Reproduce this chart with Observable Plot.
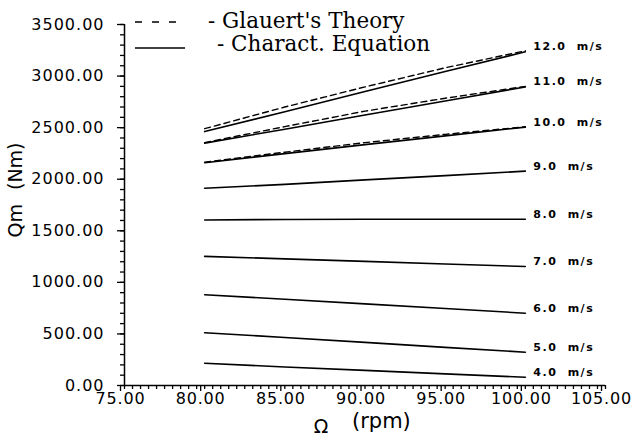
<!DOCTYPE html>
<html><head><meta charset="utf-8">
<script src="https://cdn.jsdelivr.net/npm/d3@7"></script>
<script src="https://cdn.jsdelivr.net/npm/@observablehq/plot@0.6"></script>
<style>
body{margin:0;background:#fff}
#chart{width:631px;height:442px;position:relative}
#chart svg g[aria-label="y-axis tick label"] text{letter-spacing:1px}
#chart svg g[aria-label="x-axis tick label"] text{letter-spacing:0.8px}
#chart svg g[aria-label="text"] text{letter-spacing:1.5px;word-spacing:5px}
</style>
</head><body><div id="chart"></div>
<script>
// Rotor speed (rpm) samples
const rpm = [80, 85, 90, 95, 100];
// Wind speed labels
const speedLabels = ["4.0 m/s","5.0 m/s","6.0 m/s","7.0 m/s","8.0 m/s","9.0 m/s","10.0 m/s","11.0 m/s","12.0 m/s"];
// Characteristic equation: Qm (Nm)
const charact4  = [215, 180, 147, 113, 80];
const charact5  = [512, 465, 418, 370, 323];
const charact6  = [880, 836, 791, 746, 701];
const charact7  = [1252, 1228, 1203, 1178, 1154];
const charact8  = [1605, 1610, 1612, 1612, 1612];
const charact9  = [1913, 1950, 1994, 2035, 2078];
const charact10 = [2160, 2248, 2335, 2420, 2505];
const charact11 = [2350, 2485, 2622, 2758, 2895];
const charact12 = [2462, 2655, 2850, 3045, 3235];
// Glauert's theory: Qm (Nm)
const glauert10 = [2165, 2262, 2355, 2435, 2508];
const glauert11 = [2355, 2510, 2660, 2785, 2900];
const glauert12 = [2490, 2700, 2895, 3080, 3245];
const glauertLabels = ["10.0 m/s","11.0 m/s","12.0 m/s"];

const charactSeries = [charact4, charact5, charact6, charact7, charact8, charact9, charact10, charact11, charact12];
const glauertSeries = [glauert10, glauert11, glauert12];

const charactRows = charactSeries.flatMap((vals, i) => vals.map((q, j) => ({rpm: rpm[j], q, speed: speedLabels[i]})));
const glauertRows = glauertSeries.flatMap((vals, i) => vals.map((q, j) => ({rpm: rpm[j], q, speed: glauertLabels[i]})));
const endRows = charactSeries.map((vals, i) => ({rpm: rpm[rpm.length - 1], q: vals[vals.length - 1], label: speedLabels[i]}));

const plot = Plot.plot({
  width: 631, height: 442,
  marginLeft: 124, marginRight: 26, marginTop: 24, marginBottom: 57,
  x: {domain: [75, 105]},
  y: {domain: [0, 3500]},
  style: {background: "white", color: "black", fontFamily: "DejaVu Sans, sans-serif", overflow: "visible"},
  marks: [
    Plot.axisY(d3.range(0, 3501, 100), {tickSize: 4, text: null, label: null, strokeWidth: 1.3}),
    Plot.axisY(d3.range(0, 3501, 500), {tickSize: 7, tickPadding: 13, tickFormat: d => d.toFixed(2), fontSize: 16, label: null, strokeWidth: 1.3}),
    Plot.axisX(d3.range(75, 105.01, 0.5), {tickSize: 4, text: null, label: null, strokeWidth: 1.3}),
    Plot.axisX(d3.range(75, 105.01, 5), {tickSize: 6, tickPadding: 1, dx: -4, tickFormat: d => d.toFixed(2), fontSize: 16, label: null, strokeWidth: 1.3}),
    Plot.ruleX([75], {strokeWidth: 1.5}),
    Plot.ruleY([0], {strokeWidth: 1.5}),
    Plot.line(charactRows, {x: "rpm", y: "q", z: "speed", stroke: "black", strokeWidth: 1.6}),
    Plot.line(glauertRows, {x: "rpm", y: "q", z: "speed", stroke: "black", strokeWidth: 1.4, strokeDasharray: "6,4"}),
    Plot.text(endRows, {x: "rpm", y: "q", text: "label", textAnchor: "start", dx: 8, dy: -5, fontSize: 11, fontWeight: "bold"})
  ]
});
document.getElementById("chart").appendChild(plot);

// Titles and legend
const svg = d3.select(plot);
const g = svg.append("g").attr("fill", "black").attr("text-anchor", "start");
g.append("text").attr("transform", "translate(22,190) rotate(-90)").attr("text-anchor", "middle")
  .attr("font-family", "DejaVu Sans, sans-serif").attr("font-size", 19).style("word-spacing", "8px").text("Qm (Nm)");
g.append("text").attr("x", 321).attr("y", 433).attr("text-anchor", "middle")
  .attr("font-family", "DejaVu Sans, sans-serif").attr("font-size", 19).text("Ω");
g.append("text").attr("x", 352).attr("y", 428).attr("text-anchor", "start")
  .attr("font-family", "DejaVu Sans, sans-serif").attr("font-size", 21).text("(rpm)");
// legend
svg.append("line").attr("x1", 135).attr("x2", 176).attr("y1", 22).attr("y2", 22)
  .attr("stroke", "black").attr("stroke-width", 1.5).attr("stroke-dasharray", "7,10");
svg.append("line").attr("x1", 135).attr("x2", 185).attr("y1", 48).attr("y2", 48)
  .attr("stroke", "black").attr("stroke-width", 1.5);
g.append("text").attr("x", 208).attr("y", 28).attr("text-anchor", "start").attr("font-family", "DejaVu Serif, serif").attr("font-size", 21.5).text("- Glauert's Theory");
g.append("text").attr("x", 217).attr("y", 51).attr("text-anchor", "start").attr("font-family", "DejaVu Serif, serif").attr("font-size", 21.5).text("- Charact. Equation");
</script>
</body></html>
